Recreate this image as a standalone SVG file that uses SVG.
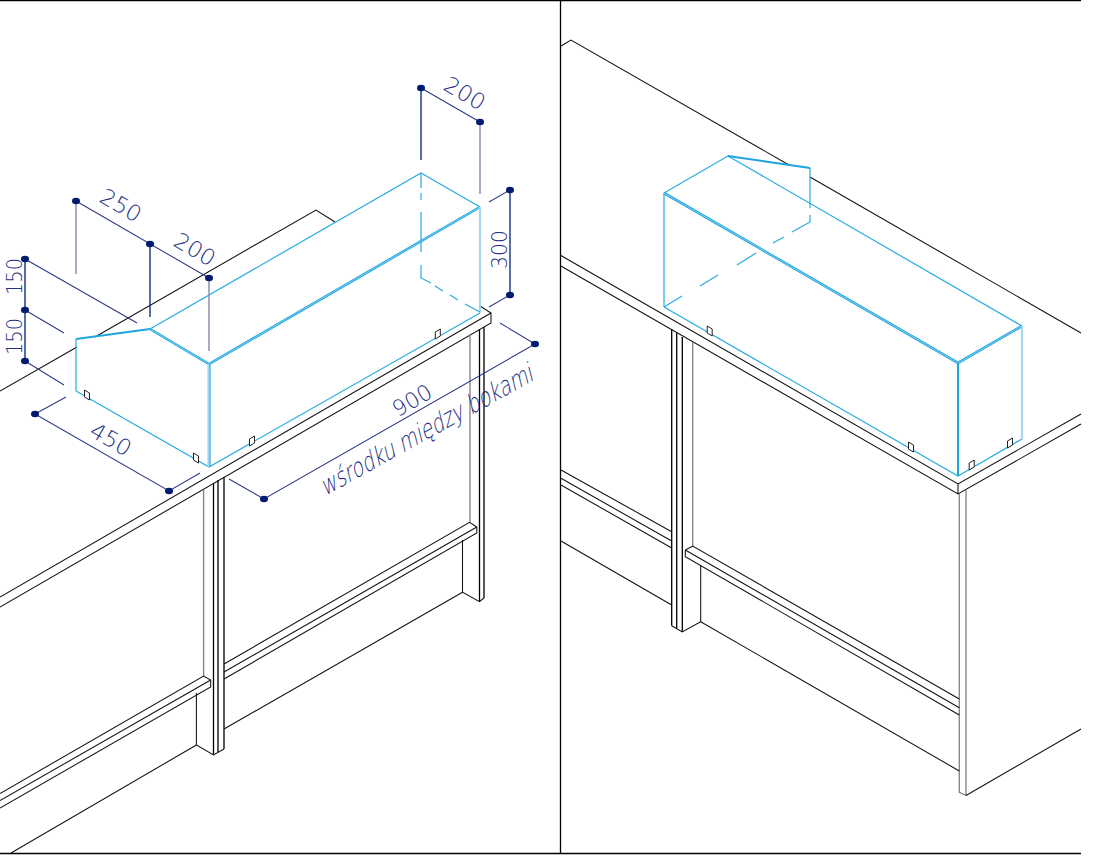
<svg xmlns="http://www.w3.org/2000/svg" width="1104" height="859" viewBox="0 0 1104 859">
<defs>
<style>
.k{fill:none;stroke:#111;stroke-width:1.05}
.p{fill:none;stroke:#000;stroke-width:1.3}
.g{fill:none;stroke:#888;stroke-width:1.4}
.f{fill:none;stroke:#000;stroke-width:1.3}
.b{fill:none;stroke:#29abe2;stroke-width:1.2}
.bt{fill:none;stroke:#1ea5e0;stroke-width:2.6}
.w{fill:none;stroke:#c4e8f8;stroke-width:.6}
.bl{fill:none;stroke:#a5d5ef;stroke-width:2.2}
.d{fill:none;stroke:#2b3a86;stroke-width:1.05}
.dv{fill:none;stroke:#00207a;stroke-width:1.3}
.dg{fill:none;stroke:#8388b4;stroke-width:1.4}
.dot{fill:#001a70}
.t{font-family:"DejaVu Sans","Liberation Sans",sans-serif;font-weight:200;font-size:22px;fill:#1f2f85}
.s{fill:#fff;stroke:#222;stroke-width:1}
</style>
<ellipse id="pt" class="dot" rx="4" ry="3.300"/>
</defs>
<rect width="1104" height="859" fill="#fff"/>
<g id="frame"><path class="f" d="M0 .5H1081M560.500 0V853M0 853.500H1081"/></g>
<g id="left-table">
<path class="k" d="M0 391L77 347M95 337L316 210L335 222"/>
<path class="k" d="M480 306L491 313V323L0 607M491 313L0 597"/>
<path class="g" d="M203.600 490V676M470 335V522"/>
<path class="p" d="M213.500 483V755M218 480V752M224 477V749M479.500 329V601.700M484 327V598"/>
<path class="k" d="M196.400 693V745L213.500 755L224 749M484 598L479.500 601.700L462.500 592.300V540M462.500 592.300L224 729"/>
<path class="k" d="M0 793.500L203.600 676L210.700 680V687L0 808M0 800.600L210.700 680M196.400 745L11 853"/>
<path class="k" d="M224 664L469.600 522.300L476.800 527V533L224 679M224 672L476.800 527"/>
</g>
<g id="left-box">
<path class="b" d="M76 391L209 467L480 313M150 329L421 173L480 207"/>
<path class="b" stroke-width="1.600" d="M76 339V391"/>
<path class="bt" style="stroke-width:2" d="M76 339L150 329"/>
<path class="bt" d="M150 329L209 364L480 207"/>
<path class="w" d="M150 329L209 364L480 207"/>
<path class="bl" d="M208.500 364V467M480 207V313"/>
<path class="b" d="M210 364V467"/>
<path class="b" d="M421 173V188M421 193V200M421 212V252M421 265V278L431 283M435 286L443 291M450 295L458 300M465 304L480 312"/>
<path class="s" d="M84.500 390L89.500 393V400L84.500 397Z"/>
<path class="s" d="M193.500 453L198.500 456V463L193.500 460Z"/>
<path class="s" d="M249.500 439L254.500 436V443L249.500 446Z"/>
<path class="s" d="M435.300 332L440.300 329V336L435.300 339Z"/>
</g>
<g id="left-dimensions">
<path class="d" d="M76 201L209 278M25 259L137 323M25 310L64 333M25 361L64 385M66 397L35 414L169 491L200 473M229 479L264 499L535 344L500 323M489 202L510 190M489 307L510 295M421 88L480 122"/>
<path class="dv" d="M150 244V317M25 259V361M510 190V295M421 88V160"/>
<path class="dg" d="M76 201V274M209 278V351M480 122V194"/>
<use href="#pt" x="76" y="201"/><use href="#pt" x="150" y="244"/><use href="#pt" x="209" y="278"/>
<use href="#pt" x="25" y="259"/><use href="#pt" x="25" y="310"/><use href="#pt" x="25" y="361"/>
<use href="#pt" x="35" y="414"/><use href="#pt" x="169" y="491"/><use href="#pt" x="264" y="499"/><use href="#pt" x="535" y="344"/>
<use href="#pt" x="510" y="190"/><use href="#pt" x="510" y="295"/><use href="#pt" x="421" y="88"/><use href="#pt" x="480" y="122"/>
<text class="t" text-anchor="middle" textLength="44" lengthAdjust="spacingAndGlyphs" transform="translate(117,212) rotate(30)">250</text>
<text class="t" text-anchor="middle" textLength="44" lengthAdjust="spacingAndGlyphs" transform="translate(191,256) rotate(30)">200</text>
<text class="t" text-anchor="middle" textLength="44" lengthAdjust="spacingAndGlyphs" transform="translate(461,100) rotate(30)">200</text>
<text class="t" text-anchor="middle" textLength="44" lengthAdjust="spacingAndGlyphs" transform="translate(107,446) rotate(30)">450</text>
<text class="t" text-anchor="middle" textLength="37" lengthAdjust="spacingAndGlyphs" transform="translate(21.500,276.500) rotate(-90)">150</text>
<text class="t" text-anchor="middle" textLength="37" lengthAdjust="spacingAndGlyphs" transform="translate(21.500,336.500) rotate(-90)">150</text>
<text class="t" text-anchor="middle" textLength="39" lengthAdjust="spacingAndGlyphs" transform="translate(507,249.500) rotate(-90)">300</text>
<text class="t" text-anchor="middle" textLength="42" lengthAdjust="spacingAndGlyphs" transform="translate(416,407) rotate(-30)">900</text>
<text class="t" style="font-size:26px" textLength="240" lengthAdjust="spacingAndGlyphs" transform="translate(325,496) rotate(-29) skewX(-15)">wśrodku między bokami</text>
</g>
<g id="right-table">
<path class="k" d="M561 46L571 40L789 165M810 177L1081 333"/>
<path class="k" d="M560 255L958 484L1081 414M560 265.500L958 494L1081 424M958 484V494"/>
<path class="p" d="M671.700 329V625.700M676.700 333V628.500M682.300 337V632"/>
<path class="k" d="M671.700 625.700L682.300 632L700.700 621.700V565"/>
<path class="g" d="M692.700 342V546M959.300 494V792.300L966 795.500V490"/>
<path class="k" d="M685.300 550L692.700 546L959.300 699M685.300 550V556.700L959.300 715M685.300 550L959.300 707.700"/>
<path class="k" d="M700.700 621.700L959.300 771M966 795.500L1081 729"/>
<path class="k" d="M561 470L671.700 531.700M561 478.300L671.700 541M561 485L671.700 548M561 541L671.700 605"/>
</g>
<g id="right-box">
<path class="b" d="M728 156L1022 326M664 193L728 156M664 307L958 476L1022 439"/>
<path class="b" stroke-width="1.600" d="M664 193V307"/>
<path class="b" d="M810 168V208M810 215V222L792 232M784 237L773 243M756 253L737 265M718 275L700 286M682 296L664 307"/>
<path class="bt" style="stroke-width:2" d="M728 156L810 168"/>
<path class="bt" d="M664 193L958 363L1022 326"/>
<path class="w" d="M664 193L958 363L1022 326"/>
<path class="bl" d="M1022 326V439"/>
<path class="bt" style="stroke-width:2" d="M958 363V476"/>
<path class="s" d="M707.200 326L712.200 329V336L707.200 333Z"/>
<path class="s" d="M908.500 442L913.500 445V452L908.500 449Z"/>
<path class="s" d="M969.200 463L974.200 460V467L969.200 470Z"/>
<path class="s" d="M1007.500 441L1012.500 438V445L1007.500 448Z"/>
</g>
</svg>
